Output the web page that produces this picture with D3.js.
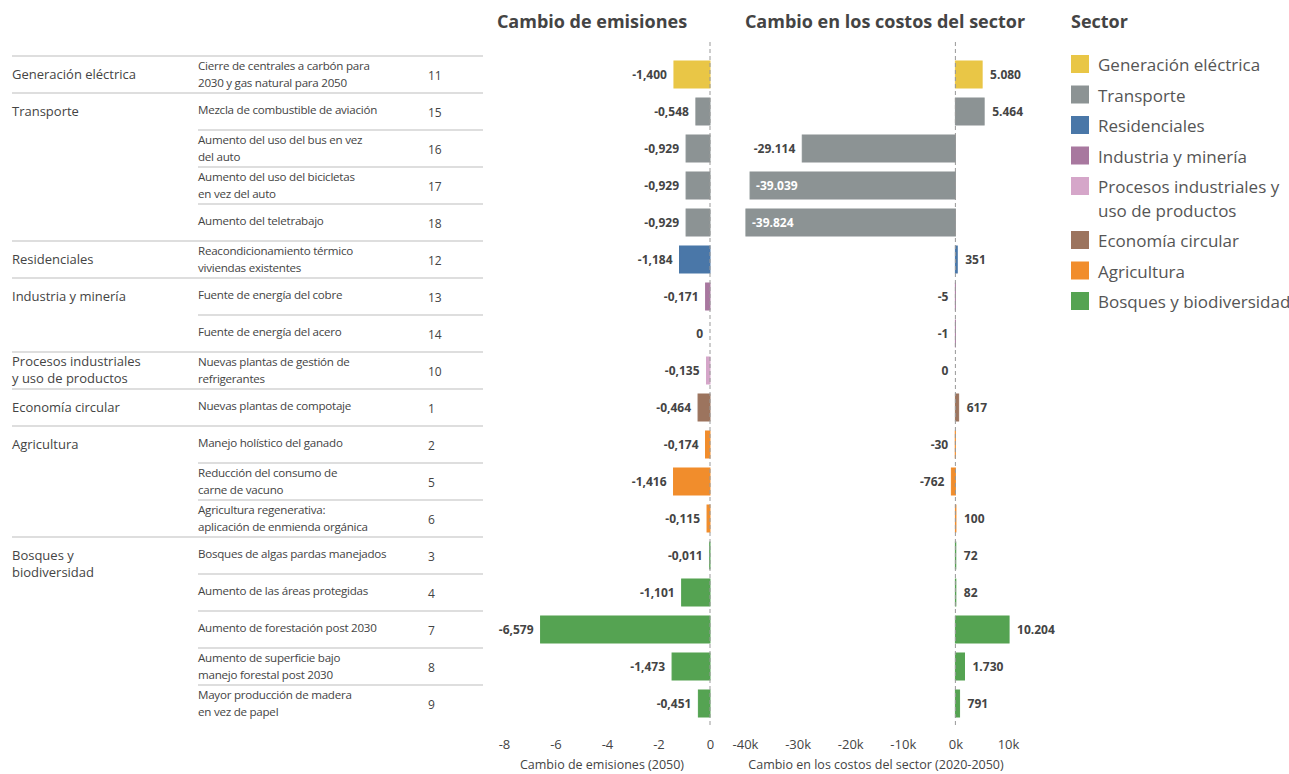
<!DOCTYPE html>
<html lang="es">
<head>
<meta charset="utf-8">
<script src="https://cdn.jsdelivr.net/npm/d3@7"></script>
<style>
  html, body { margin: 0; padding: 0; background: #fff; }
  svg { display: block; font-family: "Open Sans", "Noto Sans", sans-serif; }
</style>
</head>
<body>
<svg id="chart" width="1289" height="774"></svg>
<script>
// Sector of each measure (row order, top to bottom)
const sectors = [
  "Generación eléctrica", "Transporte", "Transporte", "Transporte", "Transporte",
  "Residenciales", "Industria y minería", "Industria y minería",
  "Procesos industriales y uso de productos", "Economía circular",
  "Agricultura", "Agricultura", "Agricultura",
  "Bosques y biodiversidad", "Bosques y biodiversidad", "Bosques y biodiversidad",
  "Bosques y biodiversidad", "Bosques y biodiversidad"
];

// Measure descriptions ("|" marks a line break)
const measures = [
  "Cierre de centrales a carbón para|2030 y gas natural para 2050",
  "Mezcla de combustible de aviación",
  "Aumento del uso del bus en vez|del auto",
  "Aumento del uso del bicicletas|en vez del auto",
  "Aumento del teletrabajo",
  "Reacondicionamiento térmico|viviendas existentes",
  "Fuente de energía del cobre",
  "Fuente de energía del acero",
  "Nuevas plantas de gestión de|refrigerantes",
  "Nuevas plantas de compotaje",
  "Manejo holístico del ganado",
  "Reducción del consumo de|carne de vacuno",
  "Agricultura regenerativa:|aplicación de enmienda orgánica",
  "Bosques de algas pardas manejados",
  "Aumento de las áreas protegidas",
  "Aumento de forestación post 2030",
  "Aumento de superficie bajo|manejo forestal post 2030",
  "Mayor producción de madera|en vez de papel"
];

// Measure identifiers
const measureIds = [11, 15, 16, 17, 18, 12, 13, 14, 10, 1, 2, 5, 6, 3, 4, 7, 8, 9];

// Change in emissions by 2050
const emissions = [-1.400, -0.548, -0.929, -0.929, -0.929, -1.184, -0.171, 0, -0.135,
  -0.464, -0.174, -1.416, -0.115, -0.011, -1.101, -6.579, -1.473, -0.451];

// Change in sector costs 2020-2050
const costs = [5080, 5464, -29114, -39039, -39824, 351, -5, -1, 0,
  617, -30, -762, 100, 72, 82, 10204, 1730, 791];

// Legend entries and colours
const sectorNames = [
  "Generación eléctrica", "Transporte", "Residenciales", "Industria y minería",
  "Procesos industriales y uso de productos", "Economía circular",
  "Agricultura", "Bosques y biodiversidad"
];
const sectorLegendLines = [
  ["Generación eléctrica"], ["Transporte"], ["Residenciales"], ["Industria y minería"],
  ["Procesos industriales y", "uso de productos"], ["Economía circular"],
  ["Agricultura"], ["Bosques y biodiversidad"]
];
// Sector labels as drawn in the table
const sectorTableLines = {
  "Generación eléctrica": ["Generación eléctrica"],
  "Transporte": ["Transporte"],
  "Residenciales": ["Residenciales"],
  "Industria y minería": ["Industria y minería"],
  "Procesos industriales y uso de productos": ["Procesos industriales", "y uso de productos"],
  "Economía circular": ["Economía circular"],
  "Agricultura": ["Agricultura"],
  "Bosques y biodiversidad": ["Bosques y", "biodiversidad"]
};
const sectorColors = ["#E9C646", "#8C9394", "#4A77A8", "#A8789F", "#D5A6C9", "#9C745E", "#F18D2C", "#55A352"];

const emissionTicks = [-8, -6, -4, -2, 0];
const costTicks = [-40000, -30000, -20000, -10000, 0, 10000];

const svg = d3.select("#chart");
const textColor = "#444";
const lineColor = "#d3d3d3";

const locale = d3.formatLocale({ decimal: ",", thousands: ".", grouping: [3], currency: ["", ""], minus: "-" });

const color = d3.scaleOrdinal().domain(sectorNames).range(sectorColors);

const rows = d3.range(emissions.length);
const y = d3.scaleBand().domain(rows).range([56, 722]).paddingInner(0.27).paddingOuter(0.135);
const step = y.step();
const rowTop = i => 56 + i * step;
const rowMid = i => rowTop(i) + step / 2;

const xE = d3.scaleLinear().domain([-8, 0]).range([504, 710]);
const xC = d3.scaleLinear().domain([-40000, 10000]).range([745, 1008]);

const fmtE = v => v === 0 ? "0" : locale.format(".3f")(v);
const fmtC = v => locale.format(",")(v);

// ---- Table on the left ----
const table = svg.append("g");
rows.forEach(i => {
  const newSector = i === 0 || sectors[i] !== sectors[i - 1];
  table.append("line")
    .attr("x1", newSector ? 12 : 198).attr("x2", 483)
    .attr("y1", rowTop(i)).attr("y2", rowTop(i))
    .attr("stroke", lineColor).attr("stroke-width", 1.5);
});

// sector names
rows.forEach(i => {
  if (i > 0 && sectors[i] === sectors[i - 1]) return;
  const lines = sectorTableLines[sectors[i]];
  const count = sectors.filter(s => s === sectors[i]).length;
  const lh = 17;
  const y0 = (count === 1 ? rowMid(i) - (lines.length - 1) * lh / 2 : rowMid(i)) + 1;
  const t = table.append("text")
    .attr("x", 12).attr("fill", textColor).attr("font-size", 13)
    .attr("dominant-baseline", "middle");
  lines.forEach((l, k) => t.append("tspan").attr("x", 12).attr("y", y0 + k * lh).text(l));
});

// measure descriptions and ids
rows.forEach(i => {
  const lines = measures[i].split("|");
  const lh = 17;
  const y0 = (lines.length === 1 ? rowMid(i) - 2 : rowMid(i) - lh / 2) + 1;
  const t = table.append("text")
    .attr("fill", textColor).attr("font-size", 11.6)
    .attr("letter-spacing", -0.25)
    .attr("dominant-baseline", "middle");
  lines.forEach((l, k) => t.append("tspan").attr("x", 198).attr("y", y0 + k * lh).text(l));
  table.append("text")
    .attr("x", 428).attr("y", rowMid(i) + 2)
    .attr("dominant-baseline", "middle")
    .attr("fill", textColor).attr("font-size", 12)
    .text(measureIds[i]);
});

// ---- Bar panels ----
function panel(values, x, ticks, fmt, tickFmt, title, axisTitle, titleX, axisTitleX) {
  const g = svg.append("g");
  const x0 = x(0);

  g.selectAll("rect").data(rows).join("rect")
    .attr("x", i => Math.min(x(values[i]), x0))
    .attr("width", i => Math.abs(x(values[i]) - x0))
    .attr("y", i => y(i))
    .attr("height", y.bandwidth())
    .attr("fill", i => color(sectors[i]))
    .attr("stroke", i => color(sectors[i]))
    .attr("stroke-width", 1);

  // zero reference line
  g.append("line")
    .attr("x1", x0).attr("x2", x0).attr("y1", 42).attr("y2", 728)
    .attr("stroke", "#999").attr("stroke-width", 1)
    .attr("stroke-dasharray", "4,3");

  const left = x.range()[0];
  g.selectAll("text.val").data(rows).join("text")
    .attr("class", "val")
    .attr("font-size", 12).attr("font-weight", 700)
    .attr("dominant-baseline", "middle")
    .attr("y", i => y(i) + y.bandwidth() / 2 + 1)
    .each(function (i) {
      const v = values[i];
      const sel = d3.select(this).text(fmt(v));
      const w = this.getComputedTextLength();
      if (v > 0) {
        sel.attr("x", x(v) + 8).attr("text-anchor", "start").attr("fill", textColor);
      } else {
        const end = x(v) - 7;
        if (end - w < left - 10) {
          sel.attr("x", x(v) + 6).attr("text-anchor", "start").attr("fill", "#fff");
        } else {
          sel.attr("x", end).attr("text-anchor", "end").attr("fill", textColor);
        }
      }
    });

  const axis = d3.axisBottom(x).tickValues(ticks).tickSize(0).tickPadding(0).tickFormat(tickFmt);
  const ax = g.append("g").attr("transform", "translate(0,740)").call(axis);
  ax.select(".domain").remove();
  ax.selectAll("text").attr("font-size", 13).attr("fill", textColor)
    .attr("font-family", "\"Open Sans\", sans-serif");

  g.append("text").attr("x", titleX).attr("y", 23)
    .attr("text-anchor", "middle").attr("dominant-baseline", "middle")
    .attr("font-size", 18).attr("font-weight", 700).attr("fill", textColor)
    .text(title);
  g.append("text").attr("x", axisTitleX).attr("y", 766)
    .attr("text-anchor", "middle").attr("dominant-baseline", "middle")
    .attr("font-size", 12.5).attr("fill", textColor)
    .text(axisTitle);
}

panel(emissions, xE, emissionTicks, fmtE, d => locale.format("d")(d),
  "Cambio de emisiones", "Cambio de emisiones (2050)", 592, 602);
panel(costs, xC, costTicks, fmtC, d => locale.format("d")(d / 1000) + "k",
  "Cambio en los costos del sector", "Cambio en los costos del sector (2020-2050)", 885, 876);

// ---- Legend ----
const legend = svg.append("g");
legend.append("text").attr("x", 1071).attr("y", 23)
  .attr("dominant-baseline", "middle")
  .attr("font-size", 18).attr("font-weight", 700).attr("fill", textColor)
  .text("Sector");
let ly = 64;
sectorNames.forEach((s, k) => {
  legend.append("rect").attr("x", 1071).attr("y", ly - 9).attr("width", 18).attr("height", 18)
    .attr("fill", color(s));
  const t = legend.append("text").attr("fill", "#555").attr("font-size", 17)
    .attr("dominant-baseline", "middle");
  sectorLegendLines[k].forEach((l, j) =>
    t.append("tspan").attr("x", 1098).attr("y", ly + 2 + j * 24).text(l));
  ly += 30.5 + (sectorLegendLines[k].length - 1) * 23.5;
});
</script>
</body>
</html>
